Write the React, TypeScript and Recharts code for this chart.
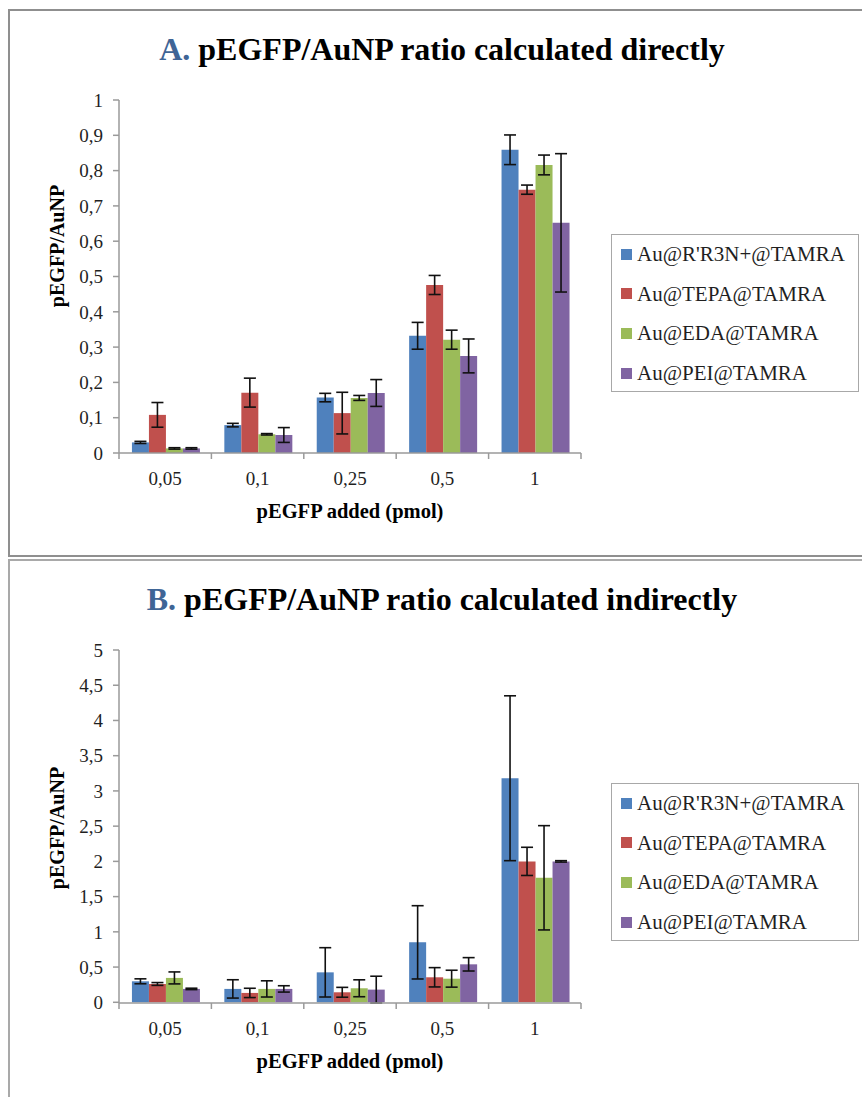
import React from "react";
import { BarChart, Bar, XAxis, YAxis, ErrorBar } from "recharts";

const doses = ["0,05", "0,1", "0,25", "0,5", "1"];
const seriesNames = ["Au@R'R3N+@TAMRA", "Au@TEPA@TAMRA", "Au@EDA@TAMRA", "Au@PEI@TAMRA"];
const seriesKeys = ["r3n", "tepa", "eda", "pei"];
const seriesColors = ["#4F81BD", "#C0504D", "#9BBB59", "#8064A2"];

// A. calculated directly
const directR3N = [0.03, 0.079, 0.157, 0.332, 0.859];
const directR3NErr = [0.003, 0.005, 0.012, 0.038, 0.042];
const directTEPA = [0.108, 0.171, 0.113, 0.476, 0.746];
const directTEPAErr = [0.035, 0.041, 0.059, 0.027, 0.013];
const directEDA = [0.013, 0.053, 0.156, 0.321, 0.816];
const directEDAErr = [0.002, 0.002, 0.007, 0.027, 0.028];
const directPEI = [0.013, 0.051, 0.17, 0.275, 0.652];
const directPEIErr = [0.002, 0.021, 0.038, 0.048, 0.196];
const directTicks = [0, 0.1, 0.2, 0.3, 0.4, 0.5, 0.6, 0.7, 0.8, 0.9, 1];

// B. calculated indirectly
const indirectR3N = [0.298, 0.19, 0.425, 0.851, 3.18];
const indirectR3NErr = [0.035, 0.13, 0.35, 0.52, 1.17];
const indirectTEPA = [0.26, 0.133, 0.142, 0.355, 2.0];
const indirectTEPAErr = [0.02, 0.066, 0.07, 0.137, 0.2];
const indirectEDA = [0.346, 0.19, 0.199, 0.335, 1.767];
const indirectEDAErr = [0.085, 0.115, 0.12, 0.12, 0.74];
const indirectPEI = [0.19, 0.19, 0.18, 0.539, 2.0];
const indirectPEIErr = [0.01, 0.045, 0.19, 0.095, 0.01];
const indirectTicks = [0, 0.5, 1, 1.5, 2, 2.5, 3, 3.5, 4, 4.5, 5];

const buildRows = (vals: number[][], errs: number[][]) =>
    doses.map((dose, i) => {
        const row: any = { dose };
        seriesKeys.forEach((k, s) => {
            row[k] = vals[s][i];
            row[k + "Err"] = errs[s][i];
        });
        return row;
    });

const directData = buildRows(
    [directR3N, directTEPA, directEDA, directPEI],
    [directR3NErr, directTEPAErr, directEDAErr, directPEIErr]
);
const indirectData = buildRows(
    [indirectR3N, indirectTEPA, indirectEDA, indirectPEI],
    [indirectR3NErr, indirectTEPAErr, indirectEDAErr, indirectPEIErr]
);

const serif = "Liberation Serif, DejaVu Serif, serif";
const axisGray = "#9a9a9a";
const plotLeft = 119;
const plotRight = 581;
const bandW = (plotRight - plotLeft) / doses.length;

const DoseTick = (props: any) => {
    const { x, y, payload } = props;
    const half = bandW / 2;
    const last = payload.value === doses[doses.length - 1];
    return (
        <g>
            <line x1={x - half} y1={y} x2={x - half} y2={y + 6} stroke={axisGray} strokeWidth={1.5} />
            {last && <line x1={x + half} y1={y} x2={x + half} y2={y + 6} stroke={axisGray} strokeWidth={1.5} />}
            <text x={x} y={y + 32} textAnchor="middle" style={{ fontFamily: serif }} fontSize={19} fill="#1f1f1f">
                {payload.value}
            </text>
        </g>
    );
};

const commaFmt = (v: number) => String(v).replace(".", ",");

interface PanelProps {
    top: number;
    height: number;
    plotTop: number;
    plotBottom: number;
    letter: string;
    title: string;
    data: any[];
    ticks: number[];
    yLabelCenter: number;
    legendTop: number;
}

const Panel: React.FC<PanelProps> = ({ top, height, plotTop, plotBottom, letter, title, data, ticks, yLabelCenter, legendTop }) => {
    const chartW = 600;
    const yAxisW = 60;
    const xAxisH = 30;
    return (
        <>
            <div
                style={{
                    position: "absolute",
                    left: 0,
                    top: plotTop - 67 + top,
                    width: 884,
                    textAlign: "center",
                    fontFamily: serif,
                    fontWeight: "bold",
                    fontSize: 32,
                    lineHeight: 1,
                    color: "#000",
                    whiteSpace: "nowrap",
                }}
            >
                <span style={{ color: "#3F6596" }}>{letter}</span> {title}
            </div>
            <div
                style={{
                    position: "absolute",
                    left: 57 - 80,
                    top: top + yLabelCenter - 12,
                    width: 160,
                    height: 24,
                    lineHeight: "24px",
                    textAlign: "center",
                    transform: "rotate(-90deg)",
                    fontFamily: serif,
                    fontWeight: "bold",
                    fontSize: 20,
                    color: "#000",
                }}
            >
                pEGFP/AuNP
            </div>
            <div style={{ position: "absolute", left: 0, top }}>
                <BarChart
                    width={chartW}
                    height={height}
                    data={data}
                    margin={{ top: plotTop, left: plotLeft - yAxisW, right: chartW - plotRight, bottom: height - plotBottom - xAxisH }}
                    barCategoryGap="14%"
                    barGap={0}
                >
                    <XAxis
                        dataKey="dose"
                        height={xAxisH}
                        interval={0}
                        tickLine={false}
                        tickSize={0}
                        tickMargin={0}
                        tick={<DoseTick />}
                        axisLine={{ stroke: axisGray, strokeWidth: 1.5 }}
                        label={{
                            value: "pEGFP added  (pmol)",
                            position: "bottom",
                            offset: 20,
                            style: { fontFamily: serif, fontWeight: "bold", fontSize: 20.5, fill: "#000", whiteSpace: "pre" },
                        }}
                    />
                    <YAxis
                        width={yAxisW}
                        domain={[ticks[0], ticks[ticks.length - 1]]}
                        ticks={ticks}
                        interval={0}
                        tickFormatter={commaFmt}
                        tickSize={6}
                        tickMargin={10}
                        tickLine={{ stroke: axisGray, strokeWidth: 1.5 }}
                        axisLine={{ stroke: axisGray, strokeWidth: 1.5 }}
                        tick={{ fontSize: 19, fill: "#1f1f1f", style: { fontFamily: serif } }}
                    />
                    {seriesKeys.map((k, s) => (
                        <Bar key={k} dataKey={k} name={seriesNames[s]} fill={seriesColors[s]} isAnimationActive={false}>
                            <ErrorBar dataKey={k + "Err"} width={6} stroke="#111" strokeWidth={1.6} />
                        </Bar>
                    ))}
                </BarChart>
            </div>
            <div
                style={{
                    position: "absolute",
                    left: 611,
                    top: top + legendTop,
                    width: 246,
                    height: 156,
                    border: "1px solid #a8a8a8",
                    background: "#fff",
                    fontFamily: serif,
                    fontSize: 21,
                    color: "#1f1f1f",
                }}
            >
                {seriesNames.map((n, s) => (
                    <div
                        key={n}
                        style={{ position: "absolute", left: 9, top: 7 + s * 39.7, height: 24, lineHeight: "24px", whiteSpace: "nowrap" }}
                    >
                        <span
                            style={{
                                display: "inline-block",
                                width: 11,
                                height: 11,
                                background: seriesColors[s],
                                marginRight: 5,
                                verticalAlign: "middle",
                                position: "relative",
                                top: -2,
                            }}
                        />
                        {n}
                    </div>
                ))}
            </div>
        </>
    );
};

export default function App() {
    return (
        <div style={{ position: "absolute", left: 0, top: 0, width: 862, height: 1097, overflow: "hidden", background: "#fff" }}>
            <div
                style={{
                    position: "absolute",
                    left: 8,
                    top: 9,
                    width: 900,
                    height: 544,
                    border: "2px solid #8f8f8f",
                }}
            />
            <div
                style={{
                    position: "absolute",
                    left: 8,
                    top: 559,
                    width: 900,
                    height: 600,
                    border: "2px solid #a9a9a9",
                }}
            />
            <Panel
                top={0}
                height={555}
                plotTop={100}
                plotBottom={453}
                letter="A."
                title="pEGFP/AuNP ratio calculated directly"
                data={directData}
                ticks={directTicks}
                yLabelCenter={246}
                legendTop={234}
            />
            <Panel
                top={555}
                height={542}
                plotTop={95}
                plotBottom={448}
                letter="B."
                title="pEGFP/AuNP ratio calculated indirectly"
                data={indirectData}
                ticks={indirectTicks}
                yLabelCenter={273}
                legendTop={228}
            />
        </div>
    );
}
